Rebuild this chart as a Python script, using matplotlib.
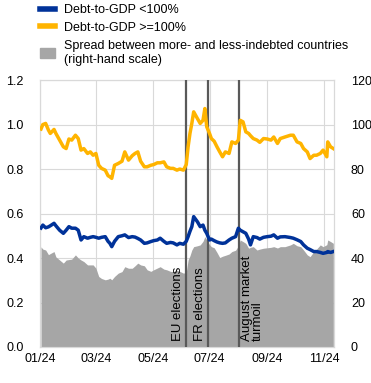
import matplotlib
matplotlib.use("Agg")
import matplotlib.pyplot as plt
import matplotlib.dates as mdates
from matplotlib.lines import Line2D
from matplotlib.patches import Patch
import pandas as pd

plt.rcParams['font.family'] = ['Liberation Sans', 'DejaVu Sans']
plt.rcParams['font.size'] = 9

# dates of the readings (2024)
dates = ["01-02", "01-04", "01-07", "01-10", "01-12", "01-16", "01-18", "01-22", "01-26", "01-29",
         "02-01", "02-04", "02-08", "02-11", "02-14", "02-17", "02-21", "02-24", "02-27", "03-01",
         "03-04", "03-07", "03-11", "03-14", "03-16", "03-18", "03-21", "03-25", "03-29", "04-01",
         "04-05", "04-09", "04-12", "04-15", "04-18", "04-22", "04-25", "04-29", "05-02", "05-06",
         "05-09", "05-13", "05-16", "05-20", "05-23", "05-27", "05-30", "06-03", "06-06", "06-08",
         "06-10", "06-12", "06-14", "06-18", "06-21", "06-24", "06-26", "06-28", "07-01", "07-03",
         "07-06", "07-09", "07-12", "07-15", "07-18", "07-22", "07-25", "07-29", "08-01", "08-03",
         "08-06", "08-09", "08-12", "08-14", "08-17", "08-21", "08-24", "08-28", "09-01", "09-05",
         "09-08", "09-12", "09-15", "09-20", "09-26", "09-29", "10-03", "10-07", "10-10", "10-14",
         "10-17", "10-21", "10-24", "10-28", "10-31", "11-04", "11-05", "11-08", "11-11"]

# debt-to-GDP < 100% (left scale)
low_debt = [0.535, 0.548, 0.536, 0.540, 0.545, 0.556, 0.545, 0.525, 0.511, 0.525,
            0.541, 0.534, 0.534, 0.525, 0.481, 0.496, 0.489, 0.493, 0.496, 0.493,
            0.489, 0.493, 0.496, 0.475, 0.466, 0.451, 0.475, 0.496, 0.500, 0.504,
            0.492, 0.496, 0.494, 0.488, 0.481, 0.466, 0.468, 0.474, 0.478, 0.481,
            0.489, 0.475, 0.466, 0.470, 0.468, 0.459, 0.466, 0.462, 0.475, 0.496,
            0.520, 0.541, 0.586, 0.563, 0.541, 0.548, 0.525, 0.511, 0.481, 0.485,
            0.478, 0.472, 0.468, 0.466, 0.468, 0.481, 0.489, 0.496, 0.534, 0.525,
            0.518, 0.511, 0.485, 0.459, 0.496, 0.492, 0.485, 0.493, 0.496, 0.498,
            0.504, 0.489, 0.495, 0.496, 0.492, 0.489, 0.482, 0.474, 0.459, 0.444,
            0.438, 0.429, 0.429, 0.425, 0.421, 0.425, 0.429, 0.425, 0.429]

# debt-to-GDP >= 100% (left scale)
high_debt = [0.980, 1.000, 1.005, 0.975, 0.960, 0.978, 0.960, 0.930, 0.900, 0.892,
             0.935, 0.930, 0.952, 0.937, 0.885, 0.892, 0.870, 0.877, 0.862, 0.870,
             0.817, 0.803, 0.795, 0.770, 0.765, 0.758, 0.817, 0.825, 0.835, 0.877,
             0.840, 0.860, 0.870, 0.877, 0.835, 0.810, 0.810, 0.817, 0.820, 0.828,
             0.828, 0.832, 0.810, 0.803, 0.803, 0.795, 0.800, 0.795, 0.820, 0.900,
             0.960, 1.005, 1.057, 1.027, 1.005, 1.019, 1.072, 0.990, 0.960, 0.937,
             0.925, 0.900, 0.877, 0.855, 0.877, 0.870, 0.922, 0.915, 0.930, 1.019,
             1.012, 0.967, 0.960, 0.950, 0.937, 0.930, 0.920, 0.937, 0.935, 0.930,
             0.944, 0.915, 0.937, 0.944, 0.952, 0.952, 0.922, 0.915, 0.892, 0.877,
             0.847, 0.862, 0.862, 0.870, 0.885, 0.855, 0.922, 0.900, 0.892]

# spread between more- and less-indebted countries (right scale)
spread = [45.0, 44.0, 43.6, 41.5, 42.0, 42.9, 40.5, 39.1, 37.7, 39.1,
          39.3, 39.5, 41.4, 40.0, 39.1, 38.4, 36.9, 36.9, 36.9, 35.4,
          31.7, 30.8, 30.2, 30.5, 30.9, 30.2, 31.7, 33.2, 33.9, 36.1,
          35.4, 35.4, 36.5, 37.7, 36.9, 36.5, 34.7, 34.0, 34.7, 35.5,
          36.1, 35.0, 34.7, 34.0, 33.9, 34.5, 34.0, 33.2, 33.5, 39.1,
          41.0, 43.6, 45.1, 45.5, 45.9, 47.5, 49.6, 48.1, 46.0, 45.1,
          44.6, 42.5, 40.2, 40.8, 41.2, 41.8, 42.9, 43.5, 45.5, 48.1,
          47.4, 46.6, 44.4, 44.8, 45.1, 43.6, 44.0, 44.4, 44.6, 44.8,
          45.1, 44.5, 45.1, 45.1, 45.9, 46.6, 45.5, 45.1, 43.6, 41.4,
          40.6, 42.9, 44.0, 45.9, 45.1, 46.0, 48.1, 47.4, 46.6]

events = ["2024-06-06", "2024-06-29", "2024-08-02"]
event_labels = ["EU elections", "FR elections", "August market\nturmoil"]

x = pd.to_datetime(["2024-" + d for d in dates])

fig = plt.figure(figsize=(3.71, 3.83), dpi=100)
ax2 = fig.add_axes([0.108, 0.094, 0.793, 0.697])  # area, right scale
ax = ax2.twinx()
ax.yaxis.tick_left()
ax2.yaxis.tick_right()

# area sits under the lines
ax2.fill_between(x, spread, color="#a6a6a6", lw=0, zorder=2)
ax2.set_ylim(0, 120)
ax2.set_yticks(range(0, 121, 20))
ax2.grid(True, color="#d9d9d9", lw=0.8, zorder=0)
ax2.set_axisbelow(True)

ax.set_zorder(ax2.get_zorder() + 1)
ax.patch.set_visible(False)

for ev in events:
    ax.axvline(pd.Timestamp(ev), color="#595959", lw=1.6, zorder=3)

ax.plot(x, high_debt, color="#ffb400", lw=2.5, zorder=4)
ax.plot(x, low_debt, color="#003299", lw=2.5, zorder=4)
ax.set_ylim(0, 1.2)
ax.set_yticks([0.0, 0.2, 0.4, 0.6, 0.8, 1.0, 1.2])
ax.set_yticklabels([f"{v:.1f}" for v in [0.0, 0.2, 0.4, 0.6, 0.8, 1.0, 1.2]])

# event labels
ax.text(pd.Timestamp("2024-06-04"), 0.025, event_labels[0], rotation=90,
        ha="right", va="bottom", fontsize=9.5, zorder=5)
ax.text(pd.Timestamp("2024-06-27"), 0.025, event_labels[1], rotation=90,
        ha="right", va="bottom", fontsize=9.5, zorder=5)
ax.text(pd.Timestamp("2024-08-04"), 0.025, event_labels[2], rotation=90,
        ha="left", va="bottom", fontsize=9.5, linespacing=0.9, zorder=5)

ax2.set_xlim(pd.Timestamp("2024-01-01"), pd.Timestamp("2024-11-12"))
ax2.xaxis.set_major_locator(mdates.MonthLocator(bymonth=[1, 3, 5, 7, 9, 11]))
ax2.xaxis.set_major_formatter(mdates.DateFormatter("%m/%y"))

for a in (ax, ax2):
    a.tick_params(length=0, labelsize=9, colors="#000000")
    for s in a.spines.values():
        s.set_color("#d9d9d9")
ax.tick_params(axis="y", pad=12)
ax2.tick_params(axis="y", pad=12)
ax2.tick_params(axis="x", pad=4)

handles = [Line2D([], [], color="#003299", lw=4),
           Line2D([], [], color="#ffb400", lw=4),
           Patch(color="#a6a6a6")]
labels = ["Debt-to-GDP <100%", "Debt-to-GDP >=100%",
          "Spread between more- and less-indebted countries\n(right-hand scale)"]
leg = fig.legend(handles, labels, loc="upper left", bbox_to_anchor=(0.085, 1.012),
                 frameon=False, handlelength=1.2, handleheight=0.8, handletextpad=0.7,
                 labelspacing=0.45, fontsize=9, borderaxespad=0.3)
for t in leg.get_texts():
    t.set_linespacing(1.3)

fig.savefig("out.png", dpi=100)
